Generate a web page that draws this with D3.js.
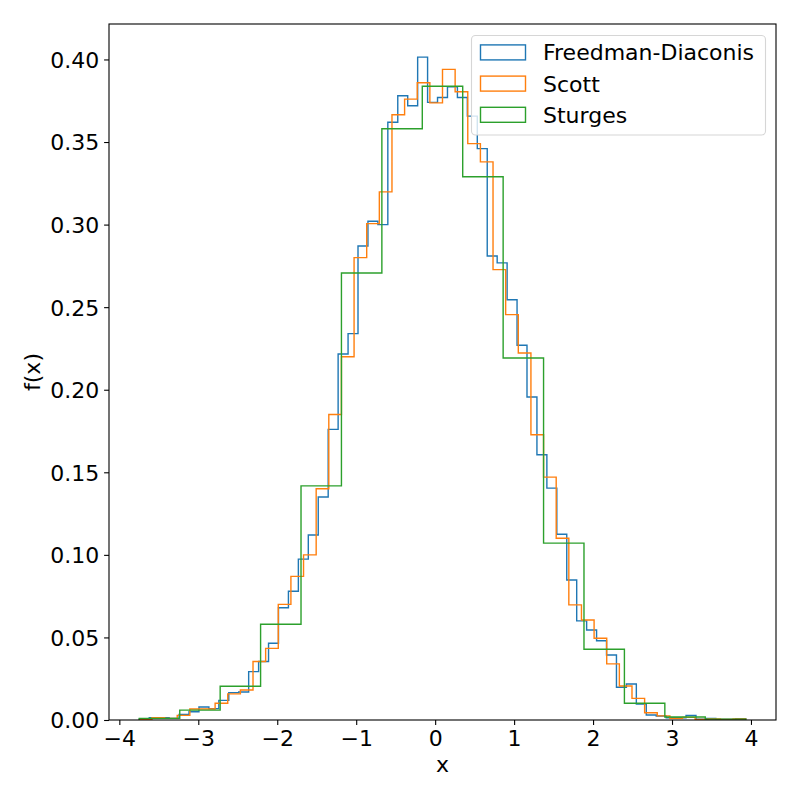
<!DOCTYPE html>
<html>
<head>
<meta charset="utf-8">
<script src="https://cdn.jsdelivr.net/npm/d3@7"></script>
<style>
  html, body { margin: 0; padding: 0; background: #fff; }
  svg { display: block; font-family: "DejaVu Sans", sans-serif; }
</style>
</head>
<body>
<svg id="chart" width="800" height="800"></svg>
<script>
// ---- data (densities) ----
const dataMin = -3.747;
const dataMax = 3.933;

const seriesNames = ["Freedman-Diaconis", "Scott", "Sturges"];
const seriesColors = ["#1f77b4", "#ff7f0e", "#2ca02c"];

// Freedman-Diaconis: 61 bins
const fdDensity = [
  0.0006, 0.0014, 0.0014, 0.0010, 0.0034, 0.0050, 0.0079, 0.0069, 0.0119, 0.0166,
  0.0170, 0.0293, 0.0354, 0.0465, 0.0680, 0.0780, 0.0974, 0.1120, 0.1350, 0.1760,
  0.2216, 0.2340, 0.2870, 0.3020, 0.3000, 0.3620, 0.3780, 0.3720, 0.4014, 0.3740,
  0.3770, 0.3834, 0.3770, 0.3657, 0.3460, 0.2810, 0.2768, 0.2545, 0.2269, 0.1956,
  0.1606, 0.1404, 0.1125, 0.0848, 0.0600, 0.0545, 0.0480, 0.0394, 0.0198, 0.0218,
  0.0097, 0.0030, 0.0024, 0.0014, 0.0014, 0.0028, 0.0005, 0.0010, 0.0003, 0.0003,
  0.0008
];

// Scott: 48 bins
const scottDensity = [
  0.0004, 0.0014, 0.0010, 0.0028, 0.0067, 0.0067, 0.0101, 0.0158, 0.0182, 0.0354,
  0.0434, 0.0700, 0.0870, 0.1000, 0.1400, 0.1850, 0.2200, 0.2800, 0.3006, 0.3198,
  0.3665, 0.3760, 0.3859, 0.3737, 0.3940, 0.3804, 0.3490, 0.3380, 0.2727, 0.2455,
  0.2222, 0.1727, 0.1471, 0.1101, 0.0697, 0.0606, 0.0495, 0.0340, 0.0206, 0.0131,
  0.0044, 0.0025, 0.0010, 0.0016, 0.0003, 0.0006, 0.0003, 0.0006
];

// Sturges: 15 bins
const sturgesDensity = [
  0.0010, 0.0060, 0.0204, 0.0580, 0.1418, 0.2707, 0.3580, 0.3838, 0.3290, 0.2192,
  0.1071, 0.0428, 0.0101, 0.0018, 0.0005
];

const xTicks = [-4, -3, -2, -1, 0, 1, 2, 3, 4];
const yTicks = [0, 0.05, 0.10, 0.15, 0.20, 0.25, 0.30, 0.35, 0.40];
const xLabel = "x";
const yLabel = "f(x)";

// ---- layout ----
const L = 109, R = 776, T = 24, B = 720;
const FONT = 22;

const svg = d3.select("#chart");

const span = dataMax - dataMin;
const x = d3.scaleLinear().domain([dataMin - 0.05 * span, dataMax + 0.05 * span]).range([L, R]);
const yMax = d3.max([d3.max(fdDensity), d3.max(scottDensity), d3.max(sturgesDensity)]) * 1.05;
const y = d3.scaleLinear().domain([0, yMax]).range([B, T]);

function stepPoints(dens) {
  const n = dens.length;
  const w = span / n;
  const pts = [[dataMin, 0]];
  dens.forEach((d, i) => {
    const a = dataMin + i * w, b = dataMin + (i + 1) * w;
    pts.push([a, d]);
    pts.push([b, d]);
  });
  pts.push([dataMax, 0]);
  return pts;
}

const line = d3.line().x(d => x(d[0])).y(d => y(d[1]));

svg.append("clipPath").attr("id", "clip")
  .append("rect").attr("x", L).attr("y", T).attr("width", R - L).attr("height", B - T);

const allSeries = [fdDensity, scottDensity, sturgesDensity];
const g = svg.append("g").attr("clip-path", "url(#clip)");
allSeries.forEach((dens, i) => {
  g.append("path")
    .attr("d", line(stepPoints(dens)))
    .attr("fill", "none")
    .attr("stroke", seriesColors[i])
    .attr("stroke-width", 1.4)
    .attr("stroke-linejoin", "miter");
});

// ---- axes ----
const fmtMinus = s => s.replace("-", "\u2212");
const xAxis = d3.axisBottom(x).tickValues(xTicks).tickSize(4.9).tickPadding(4.9)
  .tickFormat(d => fmtMinus(d3.format("d")(d)));
const yAxis = d3.axisLeft(y).tickValues(yTicks).tickSize(4.9).tickPadding(4.9)
  .tickFormat(d => d3.format(".2f")(d));

const gx = svg.append("g").attr("transform", `translate(0,${B})`).call(xAxis);
const gy = svg.append("g").attr("transform", `translate(${L},0)`).call(yAxis);
[gx, gy].forEach(ax => {
  ax.select(".domain").remove();
  ax.selectAll(".tick line").attr("stroke", "#000").attr("stroke-width", 1.1);
  ax.selectAll(".tick text").attr("fill", "#000").attr("font-size", FONT)
    .attr("font-family", "DejaVu Sans, sans-serif");
});
gx.selectAll(".tick text").attr("dy", "0.74em");
gy.selectAll(".tick text").attr("dy", "0.36em");

// frame
svg.append("rect").attr("x", L).attr("y", T).attr("width", R - L).attr("height", B - T)
  .attr("fill", "none").attr("stroke", "#000").attr("stroke-width", 1.1);

// labels
svg.append("text").attr("x", (L + R) / 2).attr("y", 772).attr("text-anchor", "middle")
  .attr("font-size", FONT).attr("fill", "#000").text(xLabel);
svg.append("text").attr("transform", `translate(40,${(T + B) / 2}) rotate(-90)`)
  .attr("text-anchor", "middle").attr("font-size", FONT).attr("fill", "#000").text(yLabel);

// ---- legend ----
const lg = svg.append("g");
lg.append("rect").attr("x", 471.5).attr("y", 35.5).attr("width", 294).attr("height", 99.5)
  .attr("rx", 4).attr("ry", 4)
  .attr("fill", "#fff").attr("fill-opacity", 0.8)
  .attr("stroke", "#d6d6d6").attr("stroke-width", 1.1);
const rowY = [52.4, 83.6, 114.8];
seriesNames.forEach((name, i) => {
  lg.append("rect").attr("x", 480.5).attr("y", rowY[i] - 7.5).attr("width", 45).attr("height", 15)
    .attr("fill", "none").attr("stroke", seriesColors[i]).attr("stroke-width", 1.4);
  lg.append("text").attr("x", 543).attr("y", rowY[i]).attr("dy", "0.36em")
    .attr("font-size", FONT).attr("fill", "#000").text(name);
});
</script>
</body>
</html>
